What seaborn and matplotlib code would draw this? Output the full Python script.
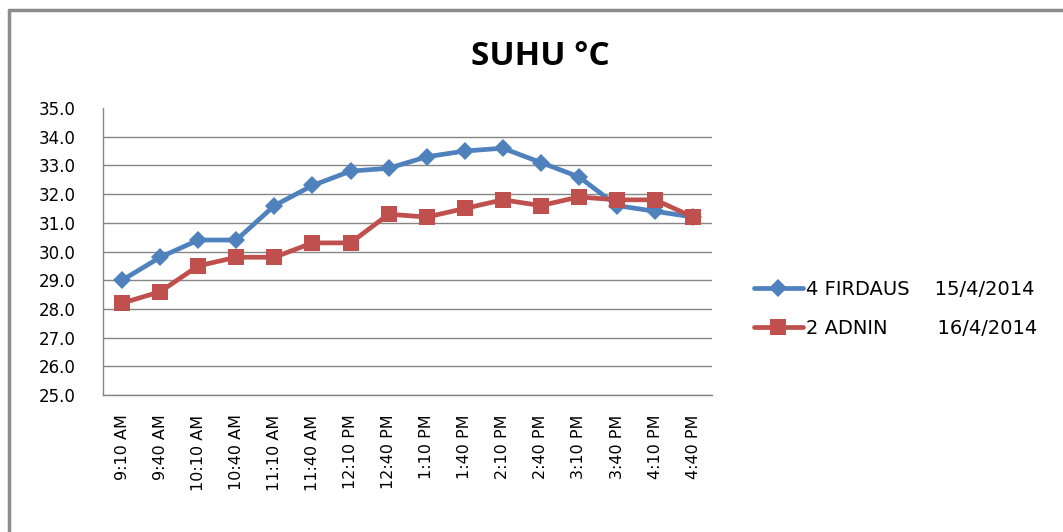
import matplotlib.pyplot as plt
import matplotlib.lines as mlines
import pandas as pd
import seaborn as sns

# data
times = ['9:10 AM', '9:40 AM', '10:10 AM', '10:40 AM', '11:10 AM', '11:40 AM',
         '12:10 PM', '12:40 PM', '1:10 PM', '1:40 PM', '2:10 PM', '2:40 PM',
         '3:10 PM', '3:40 PM', '4:10 PM', '4:40 PM']
firdaus = [29.0, 29.8, 30.4, 30.4, 31.6, 32.3, 32.8, 32.9, 33.3, 33.5, 33.6, 33.1,
           32.6, 31.6, 31.4, 31.2]
adnin = [28.2, 28.6, 29.5, 29.8, 29.8, 30.3, 30.3, 31.3, 31.2, 31.5, 31.8, 31.6,
         31.9, 31.8, 31.8, 31.2]
series_names = ['4 FIRDAUS    15/4/2014', '2 ADNIN        16/4/2014']
yticks = [25, 26, 27, 28, 29, 30, 31, 32, 33, 34, 35]

df = pd.DataFrame({
    'time': times * 2,
    'pos': list(range(len(times))) * 2,
    'suhu': firdaus + adnin,
    'series': [series_names[0]] * len(times) + [series_names[1]] * len(times),
})

sns.set_style('white')
plt.rcParams['font.family'] = ['DejaVu Sans']
plt.rcParams['text.color'] = 'black'
plt.rcParams['xtick.labelcolor'] = 'black'
plt.rcParams['ytick.labelcolor'] = 'black'

fig = plt.figure(figsize=(10.63, 5.32), dpi=100)
ax = fig.add_axes([0.097, 0.2575, 0.573, 0.5395])

palette = {series_names[0]: '#4F81BD', series_names[1]: '#C0504D'}
sns.lineplot(data=df, x='pos', y='suhu', hue='series', style='series',
             palette=palette, markers={series_names[0]: 'D', series_names[1]: 's'},
             dashes=False, linewidth=3.4, markersize=9, markeredgewidth=0, ax=ax)

# bigger squares for the red series
for line in ax.get_lines():
    if line.get_marker() == 's':
        line.set_markersize(11.5)

ax.set_xlim(-0.5, len(times) - 0.5)
ax.set_ylim(25, 35)
ax.set_yticks(yticks)
ax.set_yticklabels([f'{v:.1f}' for v in yticks])
ax.set_xticks(range(len(times)))
ax.set_xticklabels(times, rotation=90)
ax.set_xticks([i - 0.5 for i in range(len(times) + 1)], minor=True)
ax.tick_params(axis='x', which='major', length=0, pad=14, labelsize=11.5, labelcolor='black')
ax.tick_params(axis='x', which='minor', length=7, width=1, color='#868686', direction='out')
ax.tick_params(axis='y', length=8, width=1, color='#868686', direction='out', pad=12,
               labelsize=12, labelcolor='black')
ax.set_xlabel('')
ax.set_ylabel('')

ax.yaxis.grid(True, color='#868686', linewidth=1)
ax.xaxis.grid(False)
top_tick = ax.yaxis.get_major_ticks()[-1]
top_tick.tick1line.set_visible(False)
top_tick.gridline.set_visible(False)

for side in ['top', 'right']:
    ax.spines[side].set_visible(False)
for side in ['left', 'bottom']:
    ax.spines[side].set_color('#868686')
    ax.spines[side].set_linewidth(1)

handles, labels = ax.get_legend_handles_labels()
leg = ax.legend(handles, labels, loc='center left', bbox_to_anchor=(1.04, 0.30),
                frameon=False, fontsize=14, handlelength=2.5, handletextpad=0.15,
                labelspacing=1.05)
for t in leg.get_texts():
    t.set_color('black')

fig.text(0.508, 0.893, 'SUHU °C', ha='center', va='center', color='black',
         fontsize=24, fontweight='bold', family=['Open Sans', 'DejaVu Sans'])

# outer chart border (left and top visible)
fig.add_artist(mlines.Line2D([0.0085, 0.0085], [0.0, 0.981], color='#8c8c8c', linewidth=2.5))
fig.add_artist(mlines.Line2D([0.0085, 1.0], [0.981, 0.981], color='#8c8c8c', linewidth=2.5))

fig.savefig('out.png', dpi=100)
